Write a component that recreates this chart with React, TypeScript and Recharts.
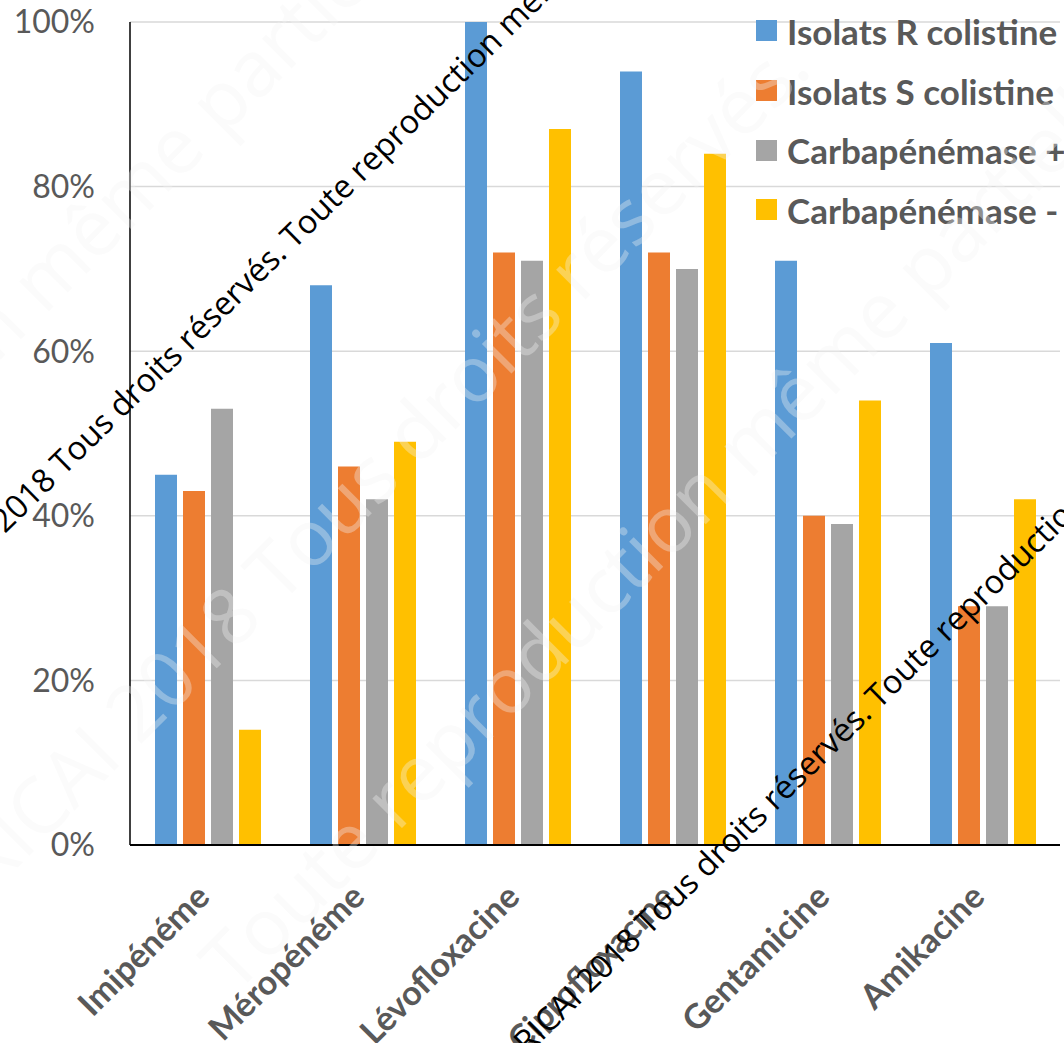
import { BarChart, Bar, XAxis, YAxis, CartesianGrid } from "recharts";

// % de résistance par antibiotique, selon le statut colistine / carbapénémase
const ANTIBIOTIQUES = [
  "Imipénéme",
  "Méropénéme",
  "Lévofloxacine",
  "Ciprofloxacine",
  "Gentamicine",
  "Amikacine",
];
const ISOLATS_R_COLISTINE = [45, 68, 100, 94, 71, 61];
const ISOLATS_S_COLISTINE = [43, 46, 72, 72, 40, 29];
const CARBAPENEMASE_POS = [53, 42, 71, 70, 39, 29];
const CARBAPENEMASE_NEG = [14, 49, 87, 84, 54, 42];
const Y_TICKS = [0, 20, 40, 60, 80, 100];

const SERIES = [
  { key: "rColistine", name: "Isolats R colistine", color: "#5B9BD5" },
  { key: "sColistine", name: "Isolats S colistine", color: "#ED7D31" },
  { key: "carbaPos", name: "Carbapénémase +", color: "#A5A5A5" },
  { key: "carbaNeg", name: "Carbapénémase -", color: "#FFC000" },
];

const data = ANTIBIOTIQUES.map((nom, i) => ({
  nom,
  rColistine: ISOLATS_R_COLISTINE[i],
  sColistine: ISOLATS_S_COLISTINE[i],
  carbaPos: CARBAPENEMASE_POS[i],
  carbaNeg: CARBAPENEMASE_NEG[i],
}));

const WATERMARK_LEFT = "RICAI 2018 Tous droits réservés.";
const WATERMARK_RIGHT = "Toute reproduction même partielle interdite";

const W = 1064;
const H = 1043;

const AxisLabel = ({ x, y, payload }: { x: number; y: number; payload: { value: string } }) => {
  const px = x + 4;
  const py = y + 52;
  return (
    <text
      x={px}
      y={py}
      transform={`rotate(-45 ${px} ${py})`}
      textAnchor="end"
      fill="#595959"
      fontFamily="Lato, sans-serif"
      fontWeight={700}
      fontSize={34}
    >
      {payload.value}
    </text>
  );
};

// légende à droite, posée par-dessus la zone de tracé
const LegendBox = () => (
  <div style={{ position: "absolute", top: 1, left: 756 }}>
    {SERIES.map((s) => (
      <div key={s.key} style={{ display: "flex", alignItems: "center", height: 59.7 }}>
        <span
          style={{ display: "inline-block", width: 21, height: 21, background: s.color, marginRight: 10 }}
        />
        <span
          style={{
            fontFamily: "Lato, sans-serif",
            fontWeight: 700,
            fontSize: 35,
            color: "#595959",
            whiteSpace: "nowrap",
          }}
        >
          {s.name}
        </span>
      </div>
    ))}
  </div>
);

// bandeau de copyright en diagonale, coupé autour de "Toute"
const Stamp = ({ x, y }: { x: number; y: number }) => (
  <g
    transform={`translate(${x} ${y}) rotate(-44.5)`}
    fontFamily="'Open Sans', sans-serif"
    fontSize={32.5}
    fill="#000"
  >
    <text x={-8} textAnchor="end">{WATERMARK_LEFT}</text>
    <text x={0}>{WATERMARK_RIGHT}</text>
  </g>
);

const Ghost = ({ x, y, text }: { x: number; y: number; text: string }) => (
  <text
    x={x}
    y={y}
    transform={`rotate(-45 ${x} ${y})`}
    fontFamily="'Open Sans', sans-serif"
    fontSize={78}
    fill="#f4f4f4"
    opacity={0.35}
  >
    {text}
  </text>
);

export default function App() {
  return (
    <div style={{ position: "absolute", left: 0, top: 0, width: W, height: H, background: "#fff" }}>
      <BarChart
        width={W}
        height={H}
        data={data}
        margin={{ top: 22, right: 4, left: 0, bottom: 0 }}
        barGap={6}
        barSize={22}
      >
        <CartesianGrid vertical={false} stroke="#d9d9d9" strokeWidth={1.5} />
        <XAxis
          dataKey="nom"
          height={198}
          interval={0}
          tickLine={false}
          tickSize={0}
          axisLine={{ stroke: "#000", strokeWidth: 2 }}
          tick={AxisLabel}
        />
        <YAxis
          width={130}
          domain={[0, 100]}
          ticks={Y_TICKS}
          tickFormatter={(v: number) => `${v}%`}
          tickLine={false}
          tickSize={0}
          tickMargin={35}
          axisLine={{ stroke: "#000", strokeWidth: 1.5 }}
          tick={{ fill: "#595959", fontSize: 32, fontFamily: "Lato, sans-serif" }}
        />
        {SERIES.map((s) => (
          <Bar key={s.key} dataKey={s.key} name={s.name} fill={s.color} isAnimationActive={false} />
        ))}
      </BarChart>

      <LegendBox />

      <svg
        width={W}
        height={H}
        style={{ position: "absolute", left: 0, top: 0, pointerEvents: "none" }}
      >
        <Ghost x={-10} y={895} text={WATERMARK_LEFT} />
        <Ghost x={235} y={995} text={WATERMARK_RIGHT} />
        <Ghost x={-470} y={830} text={WATERMARK_RIGHT} />
        <Stamp x={294} y={250} />
        <Stamp x={879} y={710} />
      </svg>
    </div>
  );
}
